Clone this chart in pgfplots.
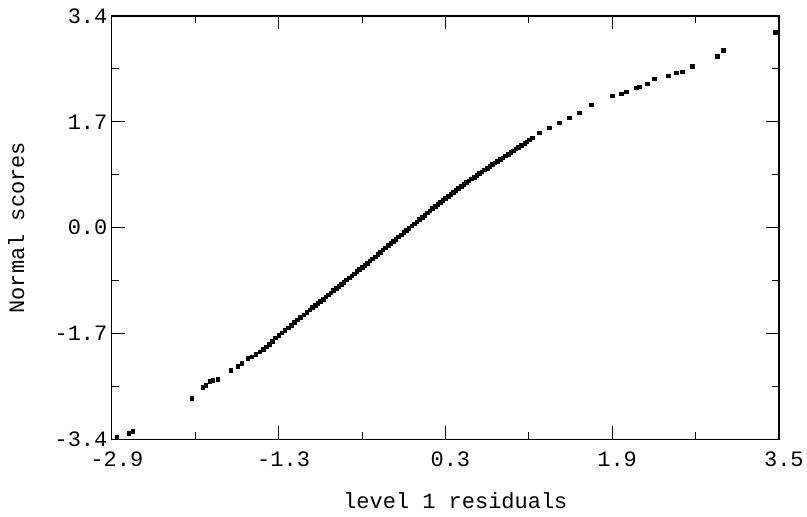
\documentclass[border=0pt]{standalone}
\usepackage{fontspec}
\setmainfont{Liberation Mono}
\usepackage{pgfplots}
\pgfplotsset{compat=1.18}
\begin{document}
\begin{tikzpicture}
\begin{axis}[
  name=ax,
  scale only axis,
  width=668pt, height=424pt,
  xmin=-2.9, xmax=3.5, ymin=-3.4, ymax=3.4,
  xtick={-2.9,-1.3,0.3,1.9,3.5},
  xticklabels={-2.9,-1.3,0.3,1.9,3.5},
  ytick={-3.4,-1.7,0,1.7,3.4},
  yticklabels={-3.4,-1.7,0.0,1.7,3.4},
  minor x tick num=1, minor y tick num=1,
  tick align=inside,
  major tick length=13pt, minor tick length=7pt,
  every tick/.style={black, line width=0.9pt},
  axis line style={black, line width=1.3pt},
  ticklabel style={font=\fontsize{22}{25}\selectfont},
  xticklabel style={yshift=-9pt, xshift=5pt},
  yticklabel style={xshift=-1pt},
  xlabel={level 1 residuals},
  ylabel={Normal scores},
  label style={font=\fontsize{22}{25}\selectfont},
  xlabel style={at={(axis description cs:0.5,0)}, anchor=north, yshift=-50pt, xshift=10pt},
  ylabel style={at={(axis description cs:0,0.5)}, anchor=south, xshift=0pt, yshift=84pt},
  clip=false,
]
\addplot[only marks, mark=square*, mark size=1.8pt, black] coordinates {
(-2.852,-3.368) (-2.737,-3.304) (-2.699,-3.272)
(-2.134,-2.742) (-2.028,-2.566) (-2.000,-2.534) (-1.961,-2.470) (-1.932,-2.454) (-1.884,-2.438)
(-1.760,-2.293) (-1.693,-2.229) (-1.654,-2.181)
(-1.597,-2.101) (-1.56,-2.07) (-1.52,-2.03) (-1.482,-1.989) (-1.45,-1.95) (-1.42,-1.91)
(-1.39,-1.87) (-1.36,-1.82) (-1.33,-1.77) (-1.30,-1.725) (-1.27,-1.685) (-1.24,-1.645)
(-1.21,-1.605) (-1.18,-1.565) (-1.15,-1.522) (-1.12,-1.48) (-1.09,-1.44) (-1.06,-1.398)
(-1.03,-1.356) (-1.00,-1.315)
(-0.975,-1.281) (-0.95,-1.247) (-0.925,-1.213) (-0.90,-1.179) (-0.875,-1.145) (-0.85,-1.111)
(-0.825,-1.077) (-0.80,-1.043) (-0.775,-1.009) (-0.75,-0.975) (-0.725,-0.941) (-0.70,-0.907)
(-0.675,-0.873) (-0.65,-0.838) (-0.625,-0.804) (-0.60,-0.770) (-0.575,-0.736) (-0.55,-0.702)
(-0.525,-0.668) (-0.50,-0.634) (-0.475,-0.600) (-0.45,-0.566) (-0.425,-0.531) (-0.40,-0.497)
(-0.375,-0.463) (-0.35,-0.429) (-0.325,-0.395)
(-0.30,-0.356) (-0.275,-0.321) (-0.25,-0.286) (-0.225,-0.251) (-0.20,-0.216) (-0.175,-0.181)
(-0.15,-0.146) (-0.125,-0.111) (-0.10,-0.076) (-0.075,-0.041) (-0.05,-0.006) (-0.025,0.029)
(0.0,0.064) (0.025,0.099) (0.05,0.134) (0.075,0.169) (0.10,0.204) (0.125,0.239)
(0.15,0.273) (0.175,0.308) (0.20,0.342) (0.225,0.375) (0.25,0.409) (0.275,0.442)
(0.30,0.475) (0.325,0.507) (0.35,0.539) (0.375,0.571) (0.40,0.603) (0.425,0.634)
(0.45,0.665) (0.475,0.696) (0.50,0.726) (0.525,0.756) (0.55,0.786) (0.575,0.815)
(0.60,0.845) (0.625,0.874) (0.65,0.902) (0.675,0.931) (0.70,0.959) (0.725,0.988)
(0.75,1.016) (0.775,1.044) (0.80,1.071) (0.825,1.099) (0.85,1.127) (0.875,1.155)
(0.90,1.183) (0.925,1.210) (0.95,1.238) (0.975,1.266) (1.00,1.294) (1.03,1.327)
(1.06,1.361) (1.08,1.383) (1.105,1.411)
(1.134,1.443) (1.201,1.524) (1.296,1.604) (1.392,1.684) (1.488,1.764) (1.584,1.844)
(1.699,1.973) (1.900,2.117) (1.986,2.149) (2.034,2.181) (2.130,2.245) (2.159,2.261)
(2.235,2.309) (2.302,2.390) (2.437,2.438) (2.513,2.486) (2.571,2.502) (2.667,2.598)
(2.906,2.758) (2.963,2.855) (3.462,3.143)
};
\end{axis}
\path ([shift={(-112pt,-77pt)}]ax.south west) rectangle ([shift={(27pt,16pt)}]ax.north east);
\end{tikzpicture}
\end{document}
